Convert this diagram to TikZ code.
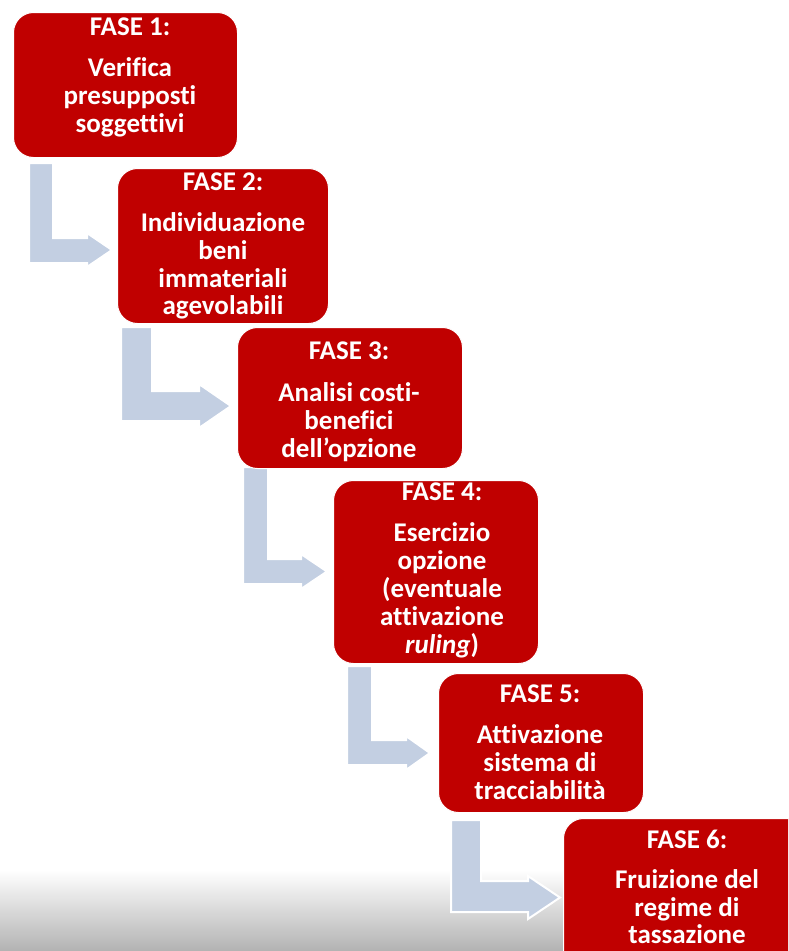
\documentclass[tikz,border=0pt]{standalone}
\usepackage{fontspec}
\setmainfont{Carlito}[Ligatures={NoCommon}]
\definecolor{boxred}{RGB}{192,0,0}
\definecolor{arrowblue}{RGB}{195,207,226}
\newcommand{\bentarrow}[9]{%
  \draw[bentarr] (#1,#3) -- (#2,#3) -- (#2,#5) -- (#6,#5) -- (#6,#7)
    -- (#9,{(#7+#8)/2}) -- (#6,#8) -- (#6,#4) -- (#1,#4) -- cycle;}
\begin{document}
\begin{tikzpicture}[x=1pt,y=-1pt,
  phase/.style={fill=boxred, draw=white, line width=1pt, rounded corners=20pt,
    anchor=north west, inner sep=0pt},
  bentarr/.style={fill=arrowblue, draw=white, line width=2pt, line join=miter},
  txt/.style={text=white, font=\fontsize{27}{28}\selectfont\bfseries,
    inner sep=0pt, anchor=base}]
\useasboundingbox (0,0) rectangle (788,951);
\clip (0,0) rectangle (788,951);
\fill[white] (0,0) rectangle (788,951);
\shade[top color=white, middle color=black!10, bottom color=black!30] (0,870) rectangle (788,951);

% arrows
\bentarrow{29}{53}{163}{263}{238}{87}{233}{267}{112}
\bentarrow{121}{152}{327}{421}{391}{199}{384}{428}{231}
\bentarrow{243}{268}{467}{584}{559}{301}{554}{589}{327}
\bentarrow{347}{372}{666}{765}{740}{406}{736}{770}{430}
\bentarrow{451}{481}{820}{912}{881}{528}{876}{919}{560}

% boxes
\node[phase, minimum width=224pt, minimum height=145pt] (b1) at (13,12) {};
\node[phase, minimum width=211pt, minimum height=155pt] (b2) at (117,168) {};
\node[phase, minimum width=225pt, minimum height=141pt] (b3) at (237,327) {};
\node[phase, minimum width=205pt, minimum height=183pt] (b4) at (333,480) {};
\node[phase, minimum width=205pt, minimum height=139pt] (b5) at (438,673) {};
\node[phase, minimum width=248pt, minimum height=180pt] (b6) at (563,818) {};

% texts
\node[txt] (t11) at (130,35) {FASE 1:};
\node[txt] (t12) at (130,76) {Verifica};
\node[txt] (t13) at (130,104) {presupposti};
\node[txt] (t14) at (130,132) {soggettivi};

\node[txt] (t21) at (223,190) {FASE 2:};
\node[txt] (t22) at (223,231) {Individuazione};
\node[txt] (t23) at (223,259) {beni};
\node[txt] (t24) at (223,287) {immateriali};
\node[txt] (t25) at (223,314) {agevolabili};

\node[txt] (t31) at (349,359) {FASE 3:};
\node[txt] (t32) at (349,401) {Analisi costi-};
\node[txt] (t33) at (349,429) {benefici};
\node[txt] (t34) at (349,457) {dell’opzione};

\node[txt] (t41) at (442,500) {FASE 4:};
\node[txt] (t42) at (442,541) {Esercizio};
\node[txt] (t43) at (442,569) {opzione};
\node[txt] (t44) at (442,597) {(eventuale};
\node[txt] (t45) at (442,625) {attivazione};
\node[txt] (t46) at (442,653) {\textit{ruling})};

\node[txt] (t51) at (540,702) {FASE 5:};
\node[txt] (t52) at (540,743) {Attivazione};
\node[txt] (t53) at (540,771) {sistema di};
\node[txt] (t54) at (540,799) {tracciabilità};

\node[txt] (t61) at (687,848) {FASE 6:};
\node[txt] (t62) at (687,888) {Fruizione del};
\node[txt] (t63) at (687,916) {regime di};
\node[txt] (t64) at (687,943) {tassazione};
\end{tikzpicture}
\end{document}
